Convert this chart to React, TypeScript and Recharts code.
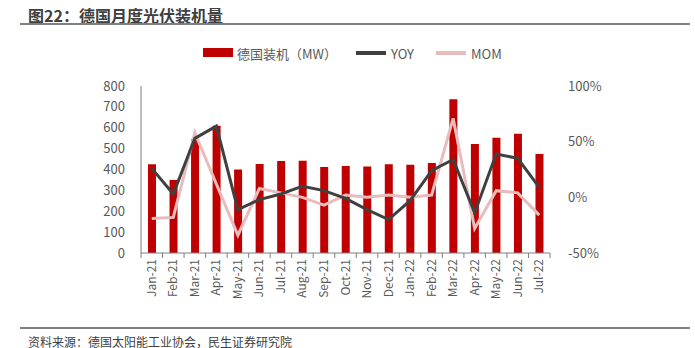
import { Bar, ComposedChart, Line, XAxis, YAxis } from "recharts";

const months = [
  "Jan-21", "Feb-21", "Mar-21", "Apr-21", "May-21", "Jun-21", "Jul-21", "Aug-21", "Sep-21", "Oct-21",
  "Nov-21", "Dec-21", "Jan-22", "Feb-22", "Mar-22", "Apr-22", "May-22", "Jun-22", "Jul-22",
];
const installs = [425, 350, 545, 610, 400, 426, 441, 442, 412, 417, 414, 425, 423, 431, 736, 522, 552, 571, 474];
const yoy = [26, 3, 53, 64, -11, -2, 3, 10, 6, -1, -11, -20, -3, 24, 34, -14, 39, 35, 9];
const mom = [-19, -18, 58, 12, -34, 8, 4, 0, -7, 2, 0, 2, 0, 2, 71, -28, 6, 4, -16];
const leftTicks = [0, 100, 200, 300, 400, 500, 600, 700, 800];
const rightTicks = [-50, 0, 50, 100];

const FONT = '"Noto Sans CJK SC", "Noto Sans", sans-serif';
const TXT = "#595959";

const data = months.map((m, i) => ({ m, installs: installs[i], yoy: yoy[i], mom: mom[i] }));

function MonthTick(props: any) {
  const { x, y, payload, index } = props;
  const half = payload?.offset ?? 10.75;
  const last = index === months.length - 1;
  return (
    <g>
      <line x1={x - half} y1={y - 8} x2={x - half} y2={y - 3} stroke="#7f7f7f" />
      {last && <line x1={x + half} y1={y - 8} x2={x + half} y2={y - 3} stroke="#7f7f7f" />}
      <text
        x={0}
        y={0}
        transform={`translate(${x + 4},${y - 2}) rotate(-90)`}
        textAnchor="end"
        fill={TXT}
        fontSize={12}
        fontFamily={FONT}
      >
        {payload.value}
      </text>
    </g>
  );
}

export default function App() {
  return (
    <div style={{ position: "absolute", left: 0, top: 0, width: 695, height: 348, background: "#fff", fontFamily: FONT }}>
      <div style={{ position: "absolute", left: 28, top: 3, fontSize: 16, fontWeight: 700, color: "#404040" }}>
        图22：德国月度光伏装机量
      </div>
      <div style={{ position: "absolute", left: 20, right: 5, top: 23, height: 2, background: "#7f7f7f" }} />

      <div style={{ position: "absolute", left: 0, top: 44, width: 695, height: 18, fontSize: 13, color: TXT }}>
        <div style={{ position: "absolute", left: 203, top: 4, width: 30, height: 9, background: "#c00000" }} />
        <div style={{ position: "absolute", left: 237, top: 0 }}>德国装机（MW）</div>
        <div style={{ position: "absolute", left: 356, top: 7, width: 30, height: 4, background: "#404040" }} />
        <div style={{ position: "absolute", left: 391, top: 0 }}>YOY</div>
        <div style={{ position: "absolute", left: 436, top: 7, width: 30, height: 4, background: "#e8bcbc" }} />
        <div style={{ position: "absolute", left: 471, top: 0 }}>MOM</div>
      </div>

      <div style={{ position: "absolute", left: 0, top: 0 }}>
        <ComposedChart width={695} height={348} data={data} margin={{ top: 86, right: 85, bottom: 35, left: 81 }}>
          <XAxis
            dataKey="m"
            xAxisId="x"
            interval={0}
            height={60}
            tickLine={false}
            axisLine={{ stroke: "#7f7f7f" }}
            tick={<MonthTick />}
          />
          <YAxis
            yAxisId="l"
            width={60}
            domain={[0, 800]}
            ticks={leftTicks}
            interval={0}
            tickLine={false}
            axisLine={{ stroke: "#7f7f7f" }}
            tick={{ fill: TXT, fontSize: 13, fontFamily: FONT }}
            tickMargin={10}
          />
          <YAxis
            yAxisId="r"
            orientation="right"
            width={60}
            domain={[-50, 100]}
            ticks={rightTicks}
            interval={0}
            tickLine={false}
            axisLine={false}
            tickFormatter={(v: number) => `${v}%`}
            tick={{ fill: TXT, fontSize: 13, fontFamily: FONT, textAnchor: "start" }}
            tickMargin={12}
          />
          <Bar xAxisId="x" yAxisId="l" dataKey="installs" fill="#c00000" barSize={8} isAnimationActive={false} />
          <Line
            xAxisId="x"
            yAxisId="r"
            dataKey="mom"
            stroke="#e8bcbc"
            strokeWidth={3}
            dot={false}
            activeDot={false}
            isAnimationActive={false}
          />
          <Line
            xAxisId="x"
            yAxisId="r"
            dataKey="yoy"
            stroke="#404040"
            strokeWidth={3}
            dot={false}
            activeDot={false}
            isAnimationActive={false}
          />
        </ComposedChart>
      </div>

      <div style={{ position: "absolute", left: 20, right: 5, top: 327, height: 2, background: "#7f7f7f" }} />
      <div style={{ position: "absolute", left: 28, top: 333, fontSize: 12, color: "#404040" }}>
        资料来源：德国太阳能工业协会，民生证券研究院
      </div>
    </div>
  );
}
